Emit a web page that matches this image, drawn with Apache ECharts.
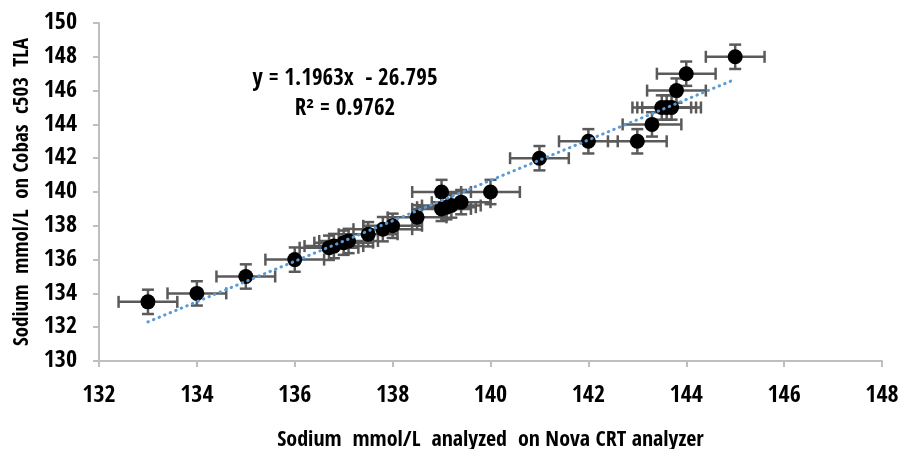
<!DOCTYPE html>
<html><head><meta charset="utf-8">
<script src="https://cdn.jsdelivr.net/npm/echarts@6/dist/echarts.min.js"></script>
<style>html,body{margin:0;padding:0;background:#fff}#c{width:904px;height:449px}</style>
</head><body><div id="c"></div>
<script>
const novaX = [133, 134, 135, 136, 136.7, 136.8, 137.0, 137.1, 137.5, 137.8, 138.0, 138.5, 139.0, 139.0, 139.1, 139.2, 139.4, 140.0, 141.0, 142.0, 143.0, 143.3, 143.5, 143.6, 143.7, 143.8, 144.0, 145.0];
const cobasY = [133.5, 134, 135, 136, 136.7, 136.8, 137.0, 137.1, 137.5, 137.8, 138.0, 138.5, 140.0, 139.0, 139.1, 139.2, 139.4, 140.0, 142, 143, 143, 144, 145, 145, 145, 146, 147, 148];
const xErr = 0.6;
const yErr = 0.72;
const slope = 1.1963, intercept = -26.795;
const trendX = [133, 145];
const eqLines = ['y = 1.1963x  - 26.795', 'R² = 0.9762'];
const xTicks = {min: 132, max: 148, interval: 2};
const yTicks = {min: 130, max: 150, interval: 2};

const FONT = '"Open Sans Condensed","Roboto Condensed",sans-serif';
const pts = novaX.map((x, i) => [x, cobasY[i]]);
const errData = novaX.map((x, i) => [x, cobasY[i], xErr, yErr]);
const trend = trendX.map(x => [x, slope * x + intercept]);

const chart = echarts.init(document.getElementById('c'));
const barColor = '#5a5a5a';
chart.setOption({
  animation: false,
  grid: {left: 99, right: 22, top: 23, bottom: 88, containLabel: false, outerBoundsMode: 'none'},
  xAxis: {
    type: 'value', min: xTicks.min, max: xTicks.max, interval: xTicks.interval,
    splitLine: {show: false},
    axisLine: {lineStyle: {color: '#bfbfbf', width: 2}},
    axisTick: {show: true, length: 6, lineStyle: {color: '#bfbfbf', width: 2}},
    axisLabel: {color: '#000', fontFamily: FONT, fontWeight: 'bold', fontSize: 24, margin: 23},
    name: 'Sodium  mmol/L  analyzed  on Nova CRT analyzer',
    nameLocation: 'middle', nameGap: 68,
    nameTextStyle: {color: '#000', fontFamily: FONT, fontWeight: 'bold', fontSize: 22}
  },
  yAxis: {
    type: 'value', min: yTicks.min, max: yTicks.max, interval: yTicks.interval,
    splitLine: {show: false},
    axisLine: {show: true, lineStyle: {color: '#bfbfbf', width: 2}},
    axisTick: {show: true, length: 6, lineStyle: {color: '#bfbfbf', width: 2}},
    axisLabel: {color: '#000', fontFamily: FONT, fontWeight: 'bold', fontSize: 24, margin: 22},
    name: 'Sodium  mmol/L  on Cobas  c503  TLA',
    nameLocation: 'middle', nameGap: 65,
    nameTextStyle: {color: '#000', fontFamily: FONT, fontWeight: 'bold', fontSize: 21}
  },
  graphic: eqLines.map((t, i) => ({
    type: 'text', x: 345, y: 79 + i * 30,
    style: {text: t, fill: '#000', font: 'bold 23px ' + FONT, align: 'center', verticalAlign: 'middle'}
  })),
  series: [
    {
      type: 'custom', z: 2,
      data: errData,
      renderItem: function (params, api) {
        const x = api.value(0), y = api.value(1), ex = api.value(2), ey = api.value(3);
        const c = api.coord([x, y]);
        const l = api.coord([x - ex, y]), r = api.coord([x + ex, y]);
        const t = api.coord([x, y + ey]), b = api.coord([x, y - ey]);
        const cap = 6;
        const st = {stroke: barColor, lineWidth: 2.5};
        return {type: 'group', children: [
          {type: 'line', shape: {x1: l[0], y1: c[1], x2: r[0], y2: c[1]}, style: st},
          {type: 'line', shape: {x1: l[0], y1: c[1] - cap, x2: l[0], y2: c[1] + cap}, style: st},
          {type: 'line', shape: {x1: r[0], y1: c[1] - cap, x2: r[0], y2: c[1] + cap}, style: st},
          {type: 'line', shape: {x1: c[0], y1: t[1], x2: c[0], y2: b[1]}, style: st},
          {type: 'line', shape: {x1: c[0] - cap, y1: t[1], x2: c[0] + cap, y2: t[1]}, style: st},
          {type: 'line', shape: {x1: c[0] - cap, y1: b[1], x2: c[0] + cap, y2: b[1]}, style: st}
        ]};
      }
    },
    {
      type: 'scatter', z: 3, data: pts, symbol: 'circle', symbolSize: 15,
      itemStyle: {color: '#000', opacity: 1}
    },
    {
      type: 'line', z: 4, data: trend, symbol: 'none',
      lineStyle: {color: '#5b9bd5', width: 3, type: [0.5, 5.5], cap: 'round'}
    }
  ]
});
</script></body></html>
